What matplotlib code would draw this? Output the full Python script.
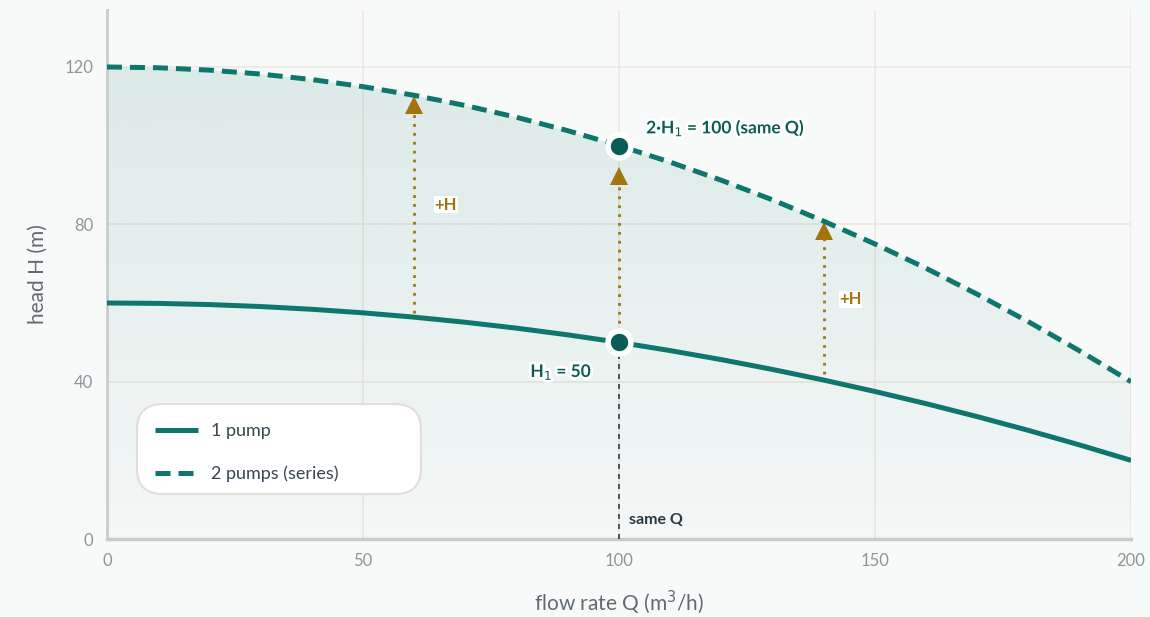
import numpy as np
import matplotlib
matplotlib.use("Agg")
from matplotlib import pyplot as plt
from matplotlib.patches import Polygon, FancyBboxPatch
import matplotlib.patheffects as pe

plt.rcParams["font.family"] = ["Lato", "DejaVu Sans"]

# flow rate (m3/h) and heads
flow = [0, 10, 20, 30, 40, 50, 60, 70, 80, 90, 100,
        110, 120, 130, 140, 150, 160, 170, 180, 190, 200]
head_one = [60, 59.9, 59.6, 59.1, 58.4, 57.5, 56.4, 55.1, 53.6, 51.9, 50,
            47.9, 45.6, 43.1, 40.4, 37.5, 34.4, 31.1, 27.6, 23.9, 20]
head_series = [120, 119.8, 119.2, 118.2, 116.8, 115, 112.8, 110.2, 107.2, 103.8, 100,
               95.8, 91.2, 86.2, 80.8, 75, 68.8, 62.2, 55.2, 47.8, 40]

# "+H" arrows: flow, start head, end head
arrow_q = [60, 100, 140]
arrow_from = [57.5, 52.5, 42.0]
arrow_to = [112.5, 94.5, 80.5]
plus_labels = [(64, 85), (143, 61)]

op_q = 100
op_h1 = 50
op_h2 = 100

TEAL = "#0f766e"
DARK = "#0b5c54"
GOLD = "#a3730f"
INK = "#2b3a42"
BG = "#f8faf9"
GRID = "#ece9e3"

fig = plt.figure(figsize=(11.5, 6.17), dpi=100, facecolor=BG)
ax = fig.add_axes([0.093, 0.1264, 0.8905, 0.8575])
ax.set_facecolor(BG)
ymax = 134.5

# gradient fill under series curve
grad = np.zeros((200, 2, 4))
rgb = matplotlib.colors.to_rgb(TEAL)
grad[..., 0], grad[..., 1], grad[..., 2] = rgb
alpha = np.linspace(0.02, 0.135, 200)
grad[..., 3] = alpha[:, None]
im = ax.imshow(grad, extent=[0, 200, 0, ymax], origin="lower", aspect="auto",
               zorder=1, interpolation="bilinear")
verts = list(zip(flow, head_series)) + [(200, 0), (0, 0)]
clip = Polygon(verts, closed=True, transform=ax.transData, facecolor="none", edgecolor="none")
ax.add_patch(clip)
im.set_clip_path(clip)
ax.set_xlim(0, 200)
ax.set_ylim(0, ymax)

ax.grid(True, color=GRID, linewidth=1.2, zorder=0)
ax.set_axisbelow(True)
ax.set_xticks([0, 50, 100, 150, 200])
ax.set_yticks([0, 40, 80, 120])

ax.plot(flow, head_one, color=TEAL, lw=3.6, solid_capstyle="butt", zorder=4, label="1 pump")
ax.plot(flow, head_series, color=TEAL, lw=3.6, dashes=(3.0, 1.6), zorder=4,
        label="2 pumps (series)")

# same Q line
ax.plot([op_q, op_q], [0, op_h1], color=INK, lw=1.2, dashes=(3, 3), zorder=3)

# arrows
for q, a, b in zip(arrow_q, arrow_from, arrow_to):
    ax.plot([q, q], [a, b - 3], color=GOLD, lw=2, dashes=(1, 2.2), zorder=3)
    ax.plot([q], [b - 2.2], marker="^", markersize=12.5, color=GOLD, markeredgewidth=0, zorder=3)

for x, y in plus_labels:
    ax.text(x, y, "+H", color=GOLD, fontsize=12, fontweight="bold", va="center", ha="left",
            zorder=5, bbox=dict(facecolor="white", edgecolor="none", pad=0.4))

# operating points
for h in (op_h1, op_h2):
    ax.plot([op_q], [h], marker="o", markersize=16.5, color=DARK,
            markeredgecolor="white", markeredgewidth=4, zorder=6)

halo = [pe.withStroke(linewidth=4, foreground="white")]
ax.text(105.3, 104.5, "2·H$_1$ = 100 (same Q)", color=DARK, fontsize=12.5, fontweight="bold",
        ha="left", va="center", zorder=7, path_effects=halo)
ax.text(94.8, 42.3, "H$_1$ = 50", color=DARK, fontsize=12.5, fontweight="bold",
        ha="right", va="center", zorder=7, path_effects=halo)
ax.text(102, 4.8, "same Q", color=INK, fontsize=11.5, fontweight="bold",
        ha="left", va="center", zorder=7)

for s in ("top", "right"):
    ax.spines[s].set_visible(False)
ax.spines["left"].set_color("#c9cccf")
ax.spines["left"].set_linewidth(2)
ax.spines["bottom"].set_color("#c9cccf")
ax.spines["bottom"].set_linewidth(2.5)
ax.tick_params(length=0, labelsize=12, labelcolor="#8b969d", pad=10)

ax.set_xlabel("flow rate Q (m$^3$/h)", fontsize=15, color="#5f6b72", labelpad=14)
ax.set_ylabel("head H (m)", fontsize=15, color="#5f6b72", labelpad=12)

# legend box drawn separately so its width matches
box = FancyBboxPatch((0.0293, 0.085), 0.2773, 0.170, transform=ax.transAxes,
                     boxstyle="round,pad=0,rounding_size=0.025", mutation_aspect=1024 / 529,
                     facecolor="white", edgecolor="#e2ded6", linewidth=1.5, zorder=8)
ax.add_patch(box)
leg = ax.legend(loc="center left", bbox_to_anchor=(0.0466, 0.163), fontsize=13,
                frameon=False, handlelength=2.4, handletextpad=0.7,
                borderpad=0, labelspacing=1.45, borderaxespad=0)
for t in leg.get_texts():
    t.set_color("#37474f")
leg.set_zorder(9)

fig.savefig("out.png", dpi=100, facecolor=BG)
